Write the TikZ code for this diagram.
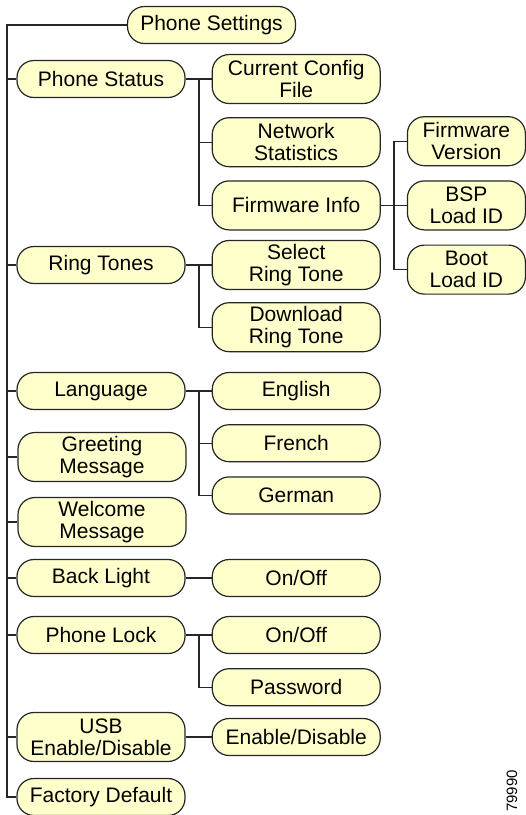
\documentclass[tikz,border=0pt]{standalone}
\usepackage{fontspec}
\setmainfont{Liberation Sans}
\usetikzlibrary{positioning}
\definecolor{menufill}{RGB}{255,255,204}

\begin{document}
\begin{tikzpicture}[
    x=1pt, y=-1pt,
    node distance=13pt,
    item/.style={
        rectangle,
        draw=black!85,
        fill=menufill,
        align=center,
        rounded corners=17pt,
        minimum width=168pt,
        minimum height=37pt,
        inner sep=2pt,
        line width=1.2pt,
        font=\fontsize{21pt}{22pt}\selectfont
    },
    tall/.style={minimum height=49pt},
    leaf/.style={minimum width=118pt},
    link/.style={
        draw,
        line width=1.2pt,
        color=black!85
    }
]
    \useasboundingbox (0,0) rectangle (526,815);

    % Menu root
    \node [item] (settings) at (211.5,25) {Phone Settings};

    % First level
    \node [item] (pstatus) at (101,79) {Phone Status};
    \node [item] (rings) at (101,265) {Ring Tones};
    \node [item] (lang) at (101,391) {Language};
    \node [item, tall] (greet) at (102,457) {Greeting\\Message};
    \node [item, tall] (welcome) at (102,522) {Welcome\\Message};
    \node [item] (light) at (101,578) {Back Light};
    \node [item] (lock) at (101,635) {Phone Lock};
    \node [item, tall] (usb) at (101,737) {USB\\Enable/Disable};
    \node [item] (factory) at (101,797) {Factory Default};

    % Second level
    \node [item, tall, right=26pt of pstatus] (config) {Current Config\\File};
    \node [item, tall, below=of config] (netstat) {Network\\Statistics};
    \node [item, tall, below=of netstat] (fwinfo) {Firmware Info};
    \node [item, tall, right=26pt of rings] (selring) {Select\\Ring Tone};
    \node [item, tall, below=12pt of selring] (dlring) {Download\\Ring Tone};
    \node [item, right=26pt of lang] (english) {English};
    \node [item, below=14pt of english] (french) {French};
    \node [item, below=14pt of french] (german) {German};
    \node [item, right=26pt of light] (lightsw) {On/Off};
    \node [item, right=26pt of lock] (locksw) {On/Off};
    \node [item, below=14pt of locksw] (passwd) {Password};
    \node [item, right=26pt of usb] (usbsw) {Enable/Disable};

    % Third level
    \node [item, tall, leaf, right=26pt of fwinfo] (bspid) {BSP\\Load ID};
    \node [item, tall, leaf, above=14pt of bspid] (fwver) {Firmware\\Version};
    \node [item, tall, leaf, below=14pt of bspid] (bootid) {Boot\\Load ID};

    % Figure number
    \node [rotate=90, anchor=east, inner sep=0pt, font=\fontsize{15pt}{15pt}\selectfont] (figno) at (512,770) {79990};

    % Junction columns
    \coordinate (trunk) at (7,0);
    \coordinate (jtwo) at (199,0);
    \coordinate (jthree) at (394,0);

    % Trunk to first level
    \path [link] (settings.west) -- (settings.west -| trunk) |- (factory.west);
    \path [link] (pstatus.west -| trunk) -- (pstatus.west);
    \path [link] (rings.west -| trunk) -- (rings.west);
    \path [link] (lang.west -| trunk) -- (lang.west);
    \path [link] (greet.west -| trunk) -- (greet.west);
    \path [link] (welcome.west -| trunk) -- (welcome.west);
    \path [link] (light.west -| trunk) -- (light.west);
    \path [link] (lock.west -| trunk) -- (lock.west);
    \path [link] (usb.west -| trunk) -- (usb.west);

    % First level to second level
    \path [link] (pstatus) -- (config);
    \path [link] (config.west -| jtwo) |- (netstat.west);
    \path [link] (config.west -| jtwo) |- (fwinfo.west);
    \path [link] (rings) -- (selring);
    \path [link] (selring.west -| jtwo) |- (dlring.west);
    \path [link] (lang) -- (english);
    \path [link] (english.west -| jtwo) |- (french.west);
    \path [link] (english.west -| jtwo) |- (german.west);
    \path [link] (light) -- (lightsw);
    \path [link] (lock) -- (locksw);
    \path [link] (locksw.west -| jtwo) |- (passwd.west);
    \path [link] (usb) -- (usbsw);

    % Second level to third level
    \path [link] (fwinfo) -- (bspid);
    \path [link] (bspid.west -| jthree) |- (fwver.west);
    \path [link] (bspid.west -| jthree) |- (bootid.west);

\end{tikzpicture}
\end{document}
